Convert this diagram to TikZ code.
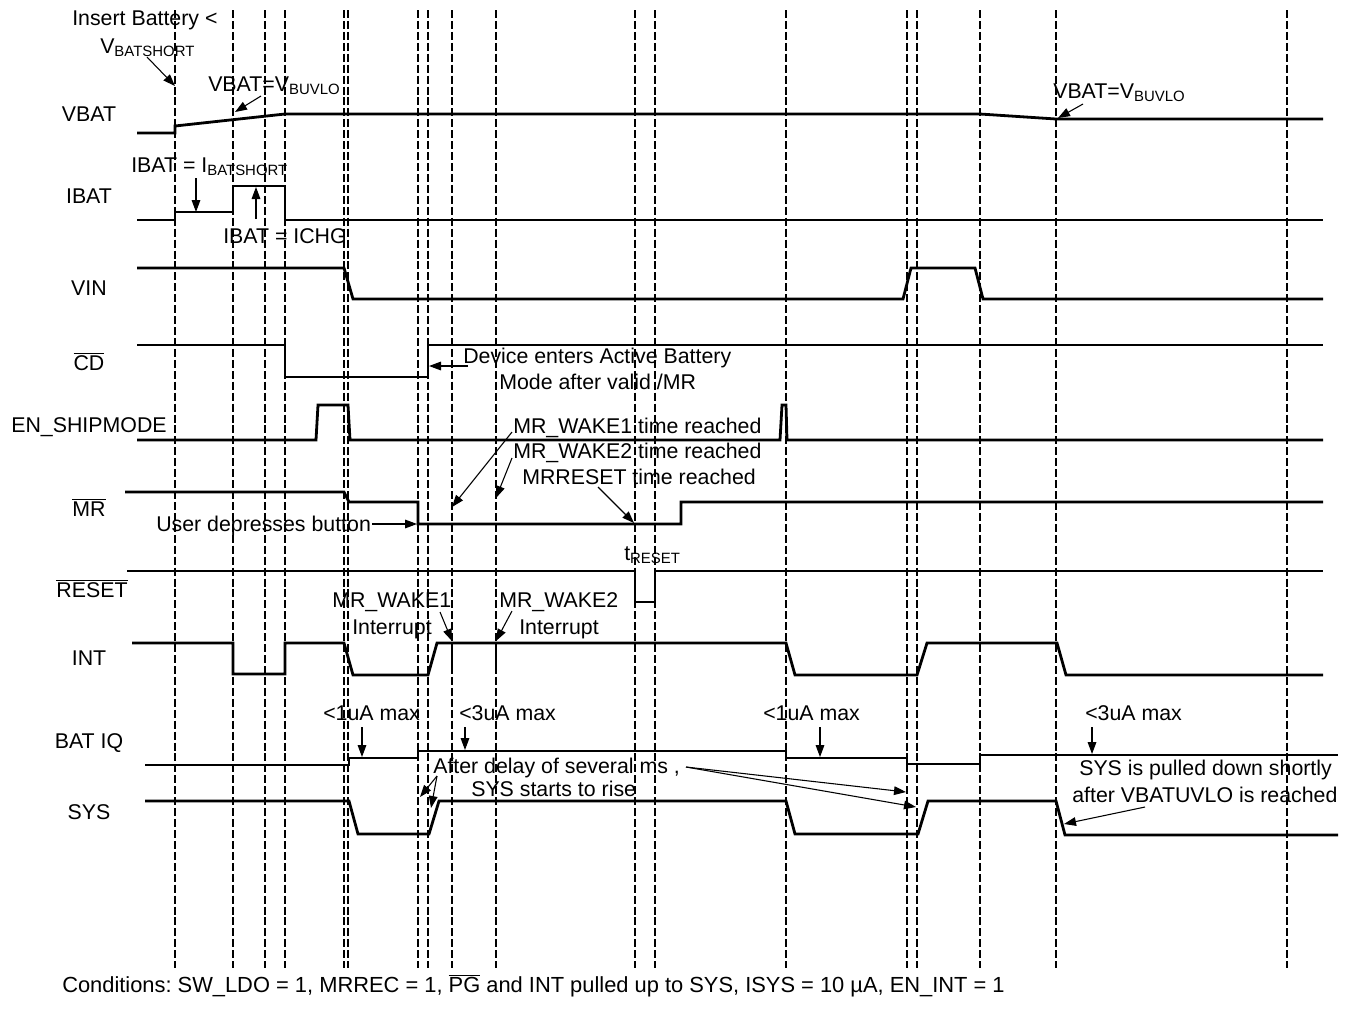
\documentclass[tikz,border=0pt]{standalone}
\usepackage{fontspec}
\setmainfont{Liberation Sans}
\usetikzlibrary{arrows.meta}
\frenchspacing

\tikzset{
  wave/.style={line width=2.1pt, line join=miter},
  timeline/.style={line width=1.7pt, dash pattern=on 6pt off 2.2pt},
  note/.style={line width=0.8pt, -{Triangle[length=9pt,width=6.5pt]}},
  txt/.style={anchor=base west, inner sep=0pt, font=\fontsize{16}{19}\selectfont},
  sig/.style={anchor=base, inner sep=0pt, font=\fontsize{16}{19}\selectfont}
}

\begin{document}
\begin{tikzpicture}[x=0.75pt, y=-0.75pt]
\useasboundingbox (0,0) rectangle (1358,1008);

% time markers
\foreach \x in {175,233,265,285,344,348,418,428,452,496,635,655,786,907,917,980,1056,1287}
  \draw [timeline] (\x,10) -- (\x,968);

% signal names
\node [sig] (vbat) at (89,121) {VBAT};
\node [sig] (ibat) at (89,203) {IBAT};
\node [sig] (vin) at (89,295) {VIN};
\node [sig] (cd) at (89,370) {$\overline{\mbox{CD}}$};
\node [sig] (ship) at (89,432) {EN\_SHIPMODE};
\node [sig] (mr) at (89,516) {$\overline{\mbox{MR}}$};
\node [sig] (rst) at (92,597) {$\overline{\mbox{RESET}}$};
\node [sig] (int) at (89,665) {INT};
\node [sig] (batiq) at (89,748) {BAT IQ};
\node [sig] (sys) at (89,819) {SYS};

% waveforms
\draw [wave] (137,133) -- (175,133) -- (175,126) -- (285,114) -- (980,114) -- (1056,119) -- (1323,119);
\draw [wave] (137,220) -- (175,220) -- (175,212) -- (233,212) -- (233,186) -- (285,186) -- (285,220) -- (1323,220);
\draw [wave] (137,268) -- (344,268) -- (353,299) -- (903,299) -- (911,268) -- (975,268) -- (983,299) -- (1323,299);
\draw [wave] (137,345) -- (285,345) -- (285,377) -- (428,377) -- (428,345) -- (1323,345);
\draw [wave] (137,440) -- (316,440) -- (318,405) -- (348,405) -- (350,440) -- (780,440) -- (782,405) -- (786,405) -- (787,440) -- (1323,440);
\draw [wave] (125,492) -- (344,492) -- (349,502) -- (418,502) -- (418,524) -- (681,524) -- (681,502) -- (1323,502);
\draw [wave] (127,571) -- (635,571) -- (635,602) -- (655,602) -- (655,571) -- (1323,571);
\draw [wave] (132,643) -- (233,643) -- (233,674) -- (285,674) -- (285,643) -- (344,643) -- (353,675) -- (428,675) -- (437,643) -- (786,643) -- (795,675) -- (917,675) -- (927,643) -- (1057,643) -- (1066,675) -- (1323,675);
\draw [wave] (452,643) -- (452,668) (496,643) -- (496,668);
\draw [wave] (145,765) -- (349,765) -- (349,758) -- (418,758) -- (418,751) -- (786,751) -- (786,758) -- (907,758) -- (907,764) -- (980,764) -- (980,755) -- (1338,755);
\draw [wave] (145,801) -- (349,801) -- (358,834) -- (429,834) -- (439,801) -- (786,801) -- (795,834) -- (918,834) -- (928,801) -- (1056,801) -- (1065,835) -- (1338,835);

% notes
\node [txt] (insert) at (72,25) {Insert Battery <};
\node [txt] (vshort) at (100,53) {V\textsubscript{BATSHORT}};
\node [txt] (buvlo) at (208,91) {VBAT=V\textsubscript{BUVLO}};
\node [txt] (ishort) at (131,172) {IBAT = I\textsubscript{BATSHORT}};
\node [txt] (ichg) at (223,243) {IBAT = ICHG};
\node [txt] (active) at (463,363) {Device enters Active Battery};
\node [txt] (active2) at (499,389) {Mode after valid /MR};
\node [txt] (wake1) at (513,433) {MR\_WAKE1 time reached};
\node [txt] (wake2) at (513,458) {MR\_WAKE2 time reached};
\node [txt] (mrreset) at (522,484) {MRRESET time reached};
\node [txt] (user) at (156,531) {User depresses button};
\node [txt] (treset) at (624,560) {t\textsubscript{RESET}};
\node [txt] (int1) at (332,607) {MR\_WAKE1};
\node [txt] (int1b) at (352,634) {Interrupt};
\node [txt] (int2) at (499,607) {MR\_WAKE2};
\node [txt] (int2b) at (519,634) {Interrupt};
\node [txt] (iq1) at (323,720) {<1uA max};
\node [txt] (iq2) at (459,720) {<3uA max};
\node [txt] (iq3) at (763,720) {<1uA max};
\node [txt] (iq4) at (1085,720) {<3uA max};
\node [txt] (delay) at (433,773) {After delay of several ms ,};
\node [txt] (delay2) at (471,796) {SYS starts to rise};
\node [txt] (pull) at (1079,775) {SYS is pulled down shortly};
\node [txt] (pull2) at (1072,802) {after VBATUVLO is reached};
\node [txt] (buvlo2) at (1053,98) {VBAT=V\textsubscript{BUVLO}};

\coordinate (a1) at (147,57);  \coordinate (b1) at (175,86);
\coordinate (a2) at (261,96);  \coordinate (b2) at (235,112);
\coordinate (a3) at (196,178); \coordinate (b3) at (196,212);
\coordinate (a4) at (256,219); \coordinate (b4) at (256,187);
\coordinate (a5) at (468,366); \coordinate (b5) at (429,366);
\coordinate (a6) at (512,432); \coordinate (b6) at (452,507);
\coordinate (a7) at (512,458); \coordinate (b7) at (496,498);
\coordinate (a8) at (598,487); \coordinate (b8) at (634,523);
\coordinate (a9) at (372,524); \coordinate (b9) at (417,524);
\coordinate (a10) at (440,612); \coordinate (b10) at (452,641);
\coordinate (a11) at (512,611); \coordinate (b11) at (496,641);
\coordinate (a16) at (437,776); \coordinate (b16) at (420,797);
\coordinate (c16) at (431,808);
\coordinate (a17) at (686,767); \coordinate (b17) at (906,792);
\coordinate (c17) at (916,807);
\coordinate (a18) at (1145,807); \coordinate (b18) at (1064,824);
\coordinate (a19) at (1083,104); \coordinate (b19) at (1058,118);

\draw [note] (a1) -- (b1);
\draw [note] (a2) -- (b2);
\draw [note] (a3) -- (b3);
\draw [note] (a4) -- (b4);
\draw [note] (a5) -- (b5);
\draw [note] (a6) -- (b6);
\draw [note] (a7) -- (b7);
\draw [note] (a8) -- (b8);
\draw [note] (a9) -- (b9);
\draw [note] (a10) -- (b10);
\draw [note] (a11) -- (b11);
\draw [note] (362,727) -- (362,757);
\draw [note] (465,727) -- (465,750);
\draw [note] (820,727) -- (820,757);
\draw [note] (1092,727) -- (1092,754);
\draw [note] (a16) -- (b16);
\draw [note] (a16) -- (c16);
\draw [note] (a17) -- (b17);
\draw [note] (a17) -- (c17);
\draw [note] (a18) -- (b18);
\draw [note] (a19) -- (b19);

\node [txt, font=\fontsize{16.4}{19}\selectfont] (cond) at (62,992) {Conditions: SW\_LDO = 1, MRREC = 1, $\overline{\mbox{PG}}$ and INT pulled up to SYS, ISYS = 10 µA, EN\_INT = 1};
\end{tikzpicture}
\end{document}
